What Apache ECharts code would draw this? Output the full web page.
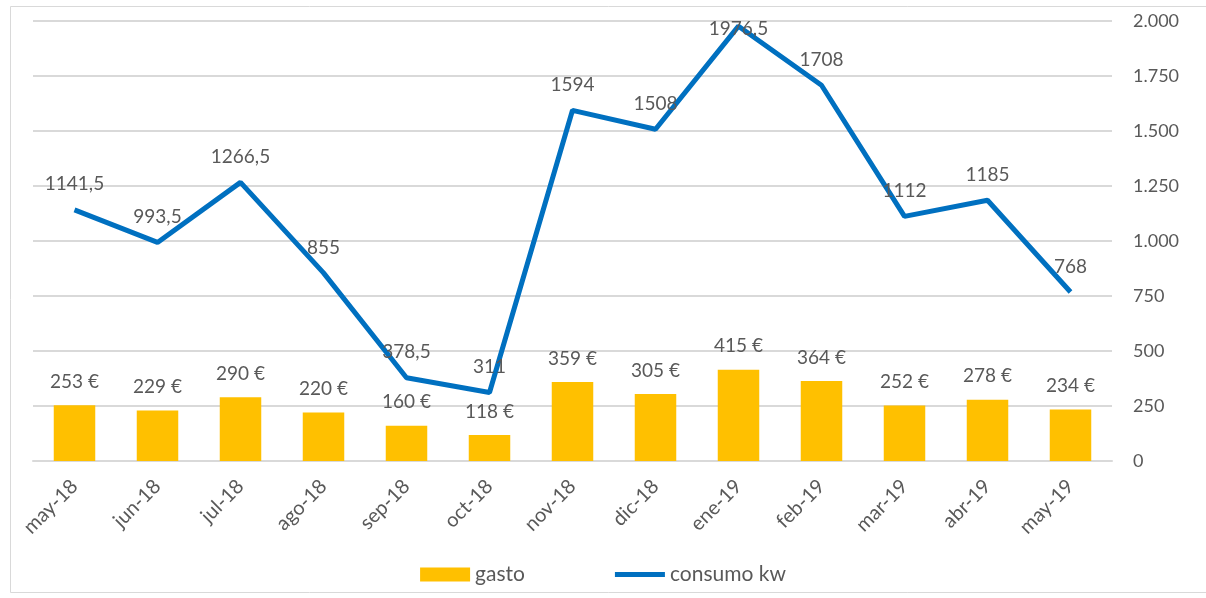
<!DOCTYPE html>
<html>
<head>
<meta charset="utf-8">
<script src="https://cdn.jsdelivr.net/npm/echarts@6/dist/echarts.min.js"></script>
<style>
  html, body { margin: 0; padding: 0; background: #fff; }
  #main { width: 1206px; height: 598px; }
</style>
</head>
<body>
<div id="main"></div>
<script>
// datos del gráfico
var meses = ['may-18', 'jun-18', 'jul-18', 'ago-18', 'sep-18', 'oct-18', 'nov-18', 'dic-18', 'ene-19', 'feb-19', 'mar-19', 'abr-19', 'may-19'];
var gasto = [253, 229, 290, 220, 160, 118, 359, 305, 415, 364, 252, 278, 234];
var consumo = [1141.5, 993.5, 1266.5, 855, 378.5, 311, 1594, 1508, 1976.5, 1708, 1112, 1185, 768];

var txt = '#595959';
var fuente = 'Lato';

function miles(v) {
    return String(v).replace(/\B(?=(\d{3})+(?!\d))/g, '.');
}

// el pico de ene-19 lleva la etiqueta encima de la línea, como en el original
var consumoData = consumo.map(function (v, i) {
    if (i === 8) return { value: v, label: { distance: -12 } };
    return v;
});

var chart = echarts.init(document.getElementById('main'));
chart.setOption({
    animation: false,
    textStyle: { fontFamily: fuente },
    graphic: [{
        type: 'rect',
        shape: { x: 10.5, y: 6.5, width: 1210, height: 586 },
        style: { fill: 'none', stroke: '#d9d9d9', lineWidth: 1 },
        silent: true
    }],
    grid: { left: 33, right: 94, top: 21, bottom: 137 },
    legend: {
        bottom: 8,
        left: 'center',
        itemGap: 90,
        itemWidth: 50,
        itemHeight: 14,
        textStyle: { color: txt, fontSize: 21, fontFamily: fuente },
        data: [
            { name: 'gasto', icon: 'rect' },
            { name: 'consumo kw', icon: 'path://M0,4 L50,4 L50,9 L0,9 Z' }
        ]
    },
    xAxis: {
        type: 'category',
        data: meses,
        axisLine: { lineStyle: { color: '#d9d9d9', width: 2 } },
        axisTick: { show: false },
        axisLabel: { color: txt, fontSize: 20, rotate: 45, margin: 22, fontFamily: fuente }
    },
    yAxis: {
        type: 'value',
        position: 'right',
        min: 0,
        max: 2000,
        interval: 250,
        axisLine: { show: false },
        axisTick: { show: false },
        splitLine: { lineStyle: { color: '#d9d9d9', width: 2 } },
        axisLabel: {
            color: txt, fontSize: 18, margin: 21, fontFamily: fuente,
            formatter: function (v) { return miles(v); }
        }
    },
    series: [
        {
            name: 'gasto',
            type: 'bar',
            data: gasto,
            barWidth: '50%',
            itemStyle: { color: '#FFC000' },
            label: {
                show: true, position: 'top', distance: 14,
                color: txt, fontSize: 19, fontFamily: fuente,
                formatter: function (p) { return p.value + ' €'; }
            }
        },
        {
            name: 'consumo kw',
            type: 'line',
            data: consumoData,
            symbol: 'circle',
            symbolSize: 0,
            lineStyle: { color: '#0070C0', width: 5 },
            itemStyle: { color: '#0070C0' },
            label: {
                show: true, position: 'top', distance: 16,
                color: txt, fontSize: 19, fontFamily: fuente,
                formatter: function (p) { return String(p.value).replace('.', ','); }
            },
            z: 3
        }
    ]
});
</script>
</body>
</html>
